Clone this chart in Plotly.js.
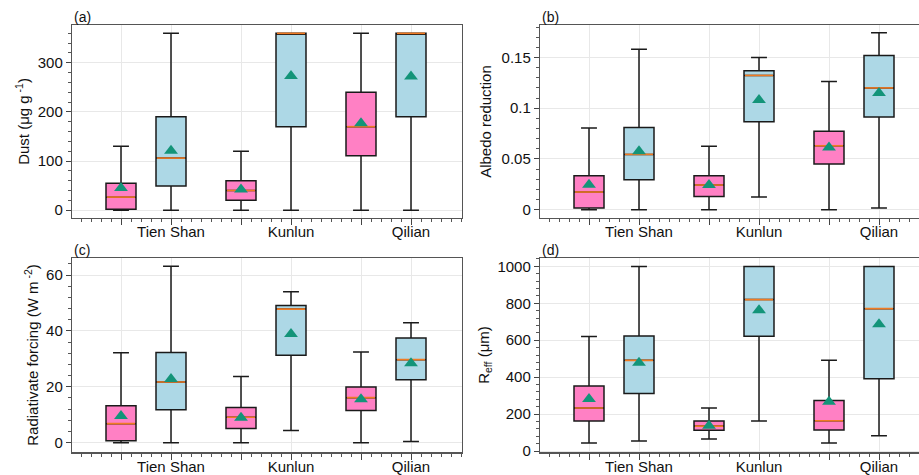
<!DOCTYPE html>
<html>
<head>
<meta charset="utf-8">
<script src="https://cdn.plot.ly/plotly-3.0.1.min.js"></script>
<style>
html,body{margin:0;padding:0;overflow:hidden;background:#fff;}
#chart{width:930px;height:475px;}
</style>
</head>
<body>
<div id="chart"></div>
<script>
// Categories
const regions = ['Tien Shan', 'Kunlun', 'Qilian'];

// (a) Dust (µg g-1)
const dustPinkLow  = [0, 0, 0];
const dustPinkQ1   = [2, 20, 111];
const dustPinkMed  = [26.5, 40, 170];
const dustPinkQ3   = [55, 60, 240];
const dustPinkHigh = [130, 120, 360];
const dustPinkMean = [45, 42, 177];
const dustBlueLow  = [0, 0, 0];
const dustBlueQ1   = [49, 170, 190];
const dustBlueMed  = [106, 360, 360];
const dustBlueQ3   = [190, 360, 360];
const dustBlueHigh = [360, 360, 360];
const dustBlueMean = [121, 273, 272];

// (b) Albedo reduction
const albPinkLow  = [0, 0, 0];
const albPinkQ1   = [0.0016, 0.0131, 0.045];
const albPinkMed  = [0.0174, 0.0243, 0.063];
const albPinkQ3   = [0.0335, 0.0335, 0.0772];
const albPinkHigh = [0.0804, 0.0624, 0.1264];
const albPinkMean = [0.0246, 0.0243, 0.0614];
const albBlueLow  = [0, 0.0125, 0.0016];
const albBlueQ1   = [0.0295, 0.0867, 0.0913];
const albBlueMed  = [0.0545, 0.1323, 0.12];
const albBlueQ3   = [0.081, 0.137, 0.152];
const albBlueHigh = [0.158, 0.15, 0.1743];
const albBlueMean = [0.0575, 0.108, 0.115];

// (c) Radiative forcing (W m-2)
const rfPinkLow  = [0, 0, 0];
const rfPinkQ1   = [0.7, 5.1, 11.5];
const rfPinkMed  = [6.8, 9.1, 16.1];
const rfPinkQ3   = [13.2, 12.6, 19.9];
const rfPinkHigh = [32.2, 23.7, 32.4];
const rfPinkMean = [9.5, 8.9, 15.5];
const rfBlueLow  = [0, 4.3, 0.4];
const rfBlueQ1   = [11.8, 31.3, 22.5];
const rfBlueMed  = [21.7, 47.8, 29.7];
const rfBlueQ3   = [32.3, 49.1, 37.5];
const rfBlueHigh = [63.1, 54, 42.9];
const rfBlueMean = [22.8, 38.9, 28.4];

// (d) Reff (µm)
const reffPinkLow  = [43, 65, 43];
const reffPinkQ1   = [162, 112, 114];
const reffPinkMed  = [233, 135, 164];
const reffPinkQ3   = [352, 162, 274];
const reffPinkHigh = [620, 233, 491];
const reffPinkMean = [282, 137, 267];
const reffBlueLow  = [54, 162, 83];
const reffBlueQ1   = [312, 621, 392];
const reffBlueMed  = [491, 820, 771];
const reffBlueQ3   = [623, 1000, 1000];
const reffBlueHigh = [1000, 1000, 1000];
const reffBlueMean = [478, 763, 686];

// Styling
const PINK = '#FF80C4', BLUE = '#ADD8E6', MED = '#F07A22', MEANC = '#139479';
const GROUP_STEP = 12, BLUE_OFFSET = 5, BOX_W = 3;
const FONT = 'Liberation Sans, Arial, sans-serif';

function positions(offset) { return regions.map((r, i) => i * GROUP_STEP + offset); }
const pinkX = positions(0), blueX = positions(BLUE_OFFSET);

function boxTrace(xs, lo, q1, med, q3, hi, fill, xa, ya) {
  return {type: 'box', x: xs, lowerfence: lo, q1: q1, median: med, q3: q3, upperfence: hi,
    width: BOX_W, whiskerwidth: 0.53, fillcolor: fill, boxpoints: false,
    line: {color: '#1a1a1a', width: 1.5}, xaxis: xa, yaxis: ya, showlegend: false, hoverinfo: 'skip'};
}
function medTrace(xs, med, xa, ya) {
  const x = [], y = [];
  xs.forEach((p, i) => { x.push(p - BOX_W / 2 + 0.1, p + BOX_W / 2 - 0.1, null); y.push(med[i], med[i], null); });
  return {type: 'scatter', mode: 'lines', x: x, y: y, line: {color: MED, width: 1.6},
    xaxis: xa, yaxis: ya, showlegend: false, hoverinfo: 'skip'};
}
function meanTrace(xs, mean, xa, ya) {
  return {type: 'scatter', mode: 'markers', x: xs, y: mean,
    marker: {symbol: 'triangle-up', size: 12, color: MEANC},
    xaxis: xa, yaxis: ya, showlegend: false, hoverinfo: 'skip'};
}
function panel(P, B, xa, ya) {
  return [
    boxTrace(pinkX, P[0], P[1], P[2], P[3], P[4], PINK, xa, ya),
    boxTrace(blueX, B[0], B[1], B[2], B[3], B[4], BLUE, xa, ya),
    medTrace(pinkX, P[2], xa, ya), medTrace(blueX, B[2], xa, ya),
    meanTrace(pinkX, P[5], xa, ya), meanTrace(blueX, B[5], xa, ya)
  ];
}

const data = [].concat(
  panel([dustPinkLow, dustPinkQ1, dustPinkMed, dustPinkQ3, dustPinkHigh, dustPinkMean],
        [dustBlueLow, dustBlueQ1, dustBlueMed, dustBlueQ3, dustBlueHigh, dustBlueMean], 'x', 'y'),
  panel([albPinkLow, albPinkQ1, albPinkMed, albPinkQ3, albPinkHigh, albPinkMean],
        [albBlueLow, albBlueQ1, albBlueMed, albBlueQ3, albBlueHigh, albBlueMean], 'x2', 'y2'),
  panel([rfPinkLow, rfPinkQ1, rfPinkMed, rfPinkQ3, rfPinkHigh, rfPinkMean],
        [rfBlueLow, rfBlueQ1, rfBlueMed, rfBlueQ3, rfBlueHigh, rfBlueMean], 'x3', 'y3'),
  panel([reffPinkLow, reffPinkQ1, reffPinkMed, reffPinkQ3, reffPinkHigh, reffPinkMean],
        [reffBlueLow, reffBlueQ1, reffBlueMed, reffBlueQ3, reffBlueHigh, reffBlueMean], 'x4', 'y4')
);

const W = 930, H = 475;
const tickvals = [], ticktext = [];
regions.forEach((r, i) => { tickvals.push(pinkX[i], blueX[i]); ticktext.push('\u00a0', r); });

function xaxis(d0, d1, anchor) {
  return {domain: [d0 / W, d1 / W], anchor: anchor, range: [-4.9, 34.1],
    tickmode: 'array', tickvals: tickvals, ticktext: ticktext,
    ticks: 'outside', ticklen: 6, tickwidth: 1, tickcolor: '#444', ticklabelstandoff: -6,
    minor: {dtick: 1, tick0: 0, ticks: 'outside', ticklen: 3, tickcolor: '#555', showgrid: false},
    showgrid: true, gridcolor: '#e8e8e8', gridwidth: 1, zeroline: false,
    showline: true, linecolor: '#555', linewidth: 1.2, mirror: true,
    tickfont: {family: FONT, size: 15, color: '#111'}, fixedrange: true};
}
function yaxis(top, bottom, anchor, range, dtick, mdtick, title, standoff) {
  return {domain: [1 - bottom / H, 1 - top / H], anchor: anchor, range: range,
    dtick: dtick, tick0: 0, ticks: 'outside', ticklen: 5, tickwidth: 1, tickcolor: '#444',
    minor: {dtick: mdtick, ticks: 'outside', ticklen: 3, tickcolor: '#555', showgrid: false},
    showgrid: true, gridcolor: '#e8e8e8', gridwidth: 1, zeroline: false,
    showline: true, linecolor: '#555', linewidth: 1.2, mirror: true,
    tickfont: {family: FONT, size: 15, color: '#111'},
    title: {text: title, font: {family: FONT, size: 15, color: '#111'}, standoff: standoff},
    fixedrange: true};
}

const layout = {
  width: W, height: H, margin: {l: 0, r: 0, t: 0, b: 0},
  paper_bgcolor: '#fff', plot_bgcolor: '#fff', boxmode: 'overlay',
  xaxis: xaxis(72, 462, 'y'),
  yaxis: yaxis(25, 218, 'x', [-16, 377], 100, 20, 'Dust (μg g<sup> -1</sup>)', 4),
  xaxis2: xaxis(540, 930, 'y2'),
  yaxis2: yaxis(25, 218, 'x2', [-0.0082, 0.182], 0.05, 0.01, 'Albedo reduction', 6),
  xaxis3: xaxis(72, 462, 'y3'),
  yaxis3: yaxis(257.7, 452.3, 'x3', [-3.46, 66.2], 20, 4, 'Radiativate forcing (W m<sup> -2</sup>)', 3),
  xaxis4: xaxis(540, 930, 'y4'),
  yaxis4: yaxis(257.7, 452.3, 'x4', [-7, 1047], 200, 40, 'R<sub>eff</sub> (μm)', 4),
  annotations: [
    ['(a)', 72, 25], ['(b)', 540, 25], ['(c)', 72, 257.7], ['(d)', 540, 257.7]
  ].map(a => ({text: a[0], xref: 'paper', yref: 'paper', x: a[1] / W, y: 1 - a[2] / H,
    xanchor: 'left', yanchor: 'bottom', showarrow: false,
    font: {family: FONT, size: 14, color: '#111'}, xshift: 0, yshift: -2}))
};

Plotly.newPlot('chart', data, layout, {staticPlot: true, displayModeBar: false});
</script>
</body>
</html>
